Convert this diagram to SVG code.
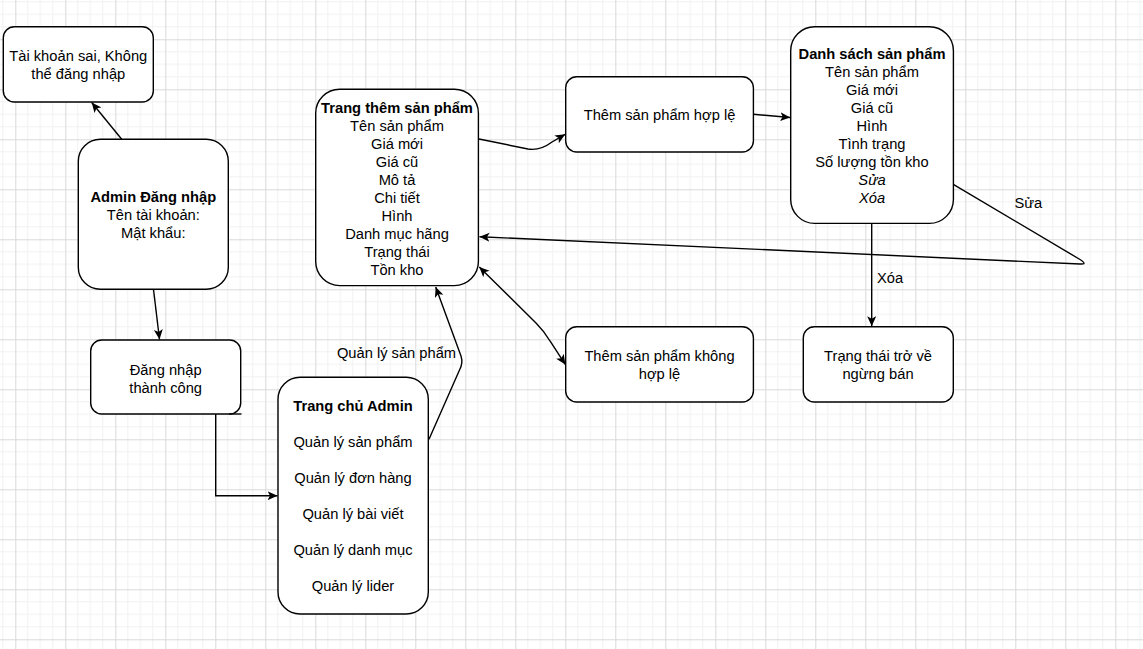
<svg xmlns="http://www.w3.org/2000/svg" width="1143" height="649" viewBox="0 0 1143 649">
<style>
.box{fill:#fff;stroke:#000;stroke-width:1.4}
.t{font-family:"Liberation Sans",Arial,sans-serif;font-size:14.7px;fill:#000;text-anchor:middle}
.b{font-weight:bold}
.i{font-style:italic}
.c{fill:none;stroke:#000;stroke-width:1.4}
</style>
<defs>
<pattern id="grid" patternUnits="userSpaceOnUse" x="15.3" y="39.3" width="50" height="50">
<rect width="50" height="50" fill="#fff"/>
<path d="M12.5,0V50M25,0V50M37.5,0V50M0,12.5H50M0,25H50M0,37.5H50" stroke="#f1f1f1" stroke-width="1" fill="none"/>
<path d="M0.5,0V50M0,0.5H50" stroke="#d9d9d9" stroke-width="1" fill="none"/>
</pattern>
<marker id="arr" markerUnits="userSpaceOnUse" markerWidth="12" markerHeight="10" refX="10" refY="4.5" orient="auto-start-reverse" viewBox="0 0 12 10">
<path d="M0,0 L10,4.5 L0,9 L2.5,4.5 Z" fill="#000"/>
</marker>
</defs>
<rect width="1143" height="649" fill="url(#grid)"/>

<g id="connectors">
<path class="c" d="M121.7,139.3 L91.7,102.5" marker-end="url(#arr)"/>
<path class="c" d="M153.5,289.3 L159.5,339.5" marker-end="url(#arr)"/>
<path class="c" d="M215.7,414 V495.7 H277.5" marker-end="url(#arr)"/>
<path class="c" d="M429,439.3 L459.5,370 Q463.3,363.3 461,356 L435.7,287" marker-end="url(#arr)"/>
<path class="c" d="M479,139 L528,149 Q540,151 552,142 L565.2,134.3" marker-end="url(#arr)"/>
<path class="c" d="M753.3,114.3 L790.2,117.5" marker-end="url(#arr)"/>
<path class="c" d="M953.3,184.3 L1080,259.5 Q1088,264.5 1080,264 L479.5,236.7" marker-end="url(#arr)"/>
<path class="c" d="M871.7,223.3 V326.2" marker-end="url(#arr)"/>
<path class="c" d="M479.3,267 L536,323 Q544,331 550,341 L565.4,364.6" marker-start="url(#arr)" marker-end="url(#arr)"/>
<text class="t" x="396.5" y="357.7">Quản lý sản phẩm</text>
<text class="t" x="1028.3" y="208">Sửa</text>
<text class="t" x="890" y="283">Xóa</text>
</g>

<g id="node-sai">
<rect class="box" x="3.3" y="26.7" width="150" height="75.3" rx="11"/>
<text class="t" x="78.3" y="61">Tài khoản sai, Không</text>
<text class="t" x="78.3" y="79">thể đăng nhập</text>
</g>

<g id="node-login">
<rect class="box" x="78.3" y="139.3" width="150" height="150" rx="22"/>
<text class="t b" x="153.3" y="202">Admin Đăng nhập</text>
<text class="t" x="153.3" y="220">Tên tài khoản:</text>
<text class="t" x="153.3" y="238">Mật khẩu:</text>
</g>

<g id="node-ok">
<rect class="box" x="90.7" y="340" width="150" height="74" rx="11"/>
<path class="c" d="M229,414 H241.5"/>
<text class="t" x="165.7" y="374.5">Đăng nhập</text>
<text class="t" x="165.7" y="392.5">thành công</text>
</g>

<g id="node-home">
<rect class="box" x="278" y="377.3" width="150.3" height="236.7" rx="22"/>
<text class="t b" x="353" y="411">Trang chủ Admin</text>
<text class="t" x="353" y="447">Quản lý sản phẩm</text>
<text class="t" x="353" y="483">Quản lý đơn hàng</text>
<text class="t" x="353" y="519">Quản lý bài viết</text>
<text class="t" x="353" y="555">Quản lý danh mục</text>
<text class="t" x="353" y="591">Quản lý lider</text>
</g>

<g id="node-add">
<rect class="box" x="315.7" y="89.3" width="162.7" height="196.3" rx="24"/>
<text class="t b" x="397" y="112.7">Trang thêm sản phẩm</text>
<text class="t" x="397" y="130.7">Tên sản phẩm</text>
<text class="t" x="397" y="148.7">Giá mới</text>
<text class="t" x="397" y="166.7">Giá cũ</text>
<text class="t" x="397" y="184.7">Mô tả</text>
<text class="t" x="397" y="202.7">Chi tiết</text>
<text class="t" x="397" y="220.7">Hình</text>
<text class="t" x="397" y="238.7">Danh mục hãng</text>
<text class="t" x="397" y="256.7">Trạng thái</text>
<text class="t" x="397" y="274.7">Tồn kho</text>
</g>

<g id="node-valid">
<rect class="box" x="565.7" y="76.7" width="187.7" height="75.3" rx="11"/>
<text class="t" x="659.5" y="120">Thêm sản phẩm hợp lệ</text>
</g>

<g id="node-invalid">
<rect class="box" x="565.7" y="326.7" width="187.7" height="75.3" rx="11"/>
<text class="t" x="659.5" y="361">Thêm sản phẩm không</text>
<text class="t" x="659.5" y="379">hợp lệ</text>
</g>

<g id="node-list">
<rect class="box" x="790.7" y="26.7" width="162.7" height="196.7" rx="24"/>
<text class="t b" x="872" y="59">Danh sách sản phẩm</text>
<text class="t" x="872" y="77">Tên sản phẩm</text>
<text class="t" x="872" y="95">Giá mới</text>
<text class="t" x="872" y="113">Giá cũ</text>
<text class="t" x="872" y="131">Hình</text>
<text class="t" x="872" y="149">Tình trạng</text>
<text class="t" x="872" y="167">Số lượng tồn kho</text>
<text class="t i" x="872" y="185">Sửa</text>
<text class="t i" x="872" y="203">Xóa</text>
</g>

<g id="node-stop">
<rect class="box" x="803.3" y="326.7" width="150" height="75.3" rx="11"/>
<text class="t" x="878" y="360.7">Trạng thái trở về</text>
<text class="t" x="878" y="379">ngừng bán</text>
</g>
</svg>
